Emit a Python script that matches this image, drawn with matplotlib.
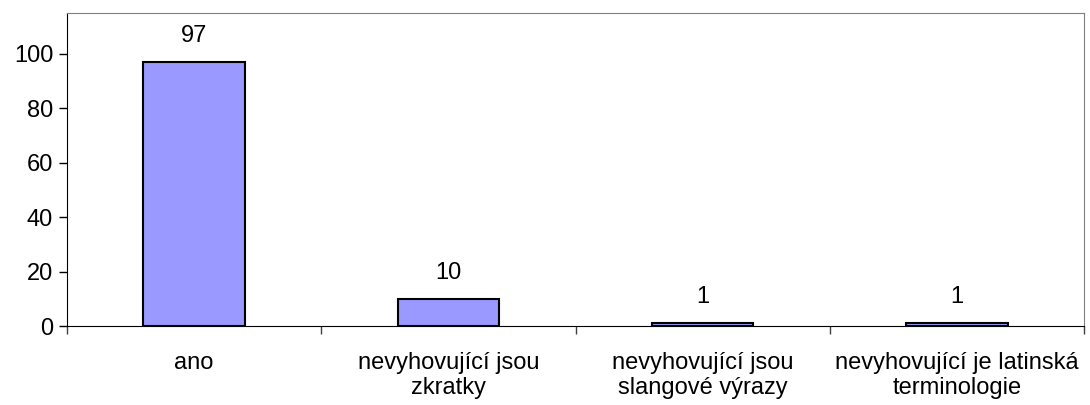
import numpy as np
import matplotlib.pyplot as plt

plt.rcParams['font.family'] = ['Liberation Sans', 'DejaVu Sans']

categories = ["ano", "nevyhovující jsou\nzkratky", "nevyhovující jsou\nslangové výrazy",
              "nevyhovující je latinská\nterminologie"]
values = [97, 10, 1, 1]
yticks = [0, 20, 40, 60, 80, 100]

fig = plt.figure(figsize=(10.9, 4.05), dpi=100)
ax = fig.add_axes([0.0615, 0.195, 0.933, 0.773])

x = np.arange(len(categories))
bars = ax.bar(x, values, width=0.4, color="#9999FF", edgecolor="black", linewidth=1.5)

for xi, v in zip(x, values):
    ax.annotate(str(v), (xi, v), xytext=(0, 11), textcoords="offset points",
                ha="center", va="bottom", fontsize=17)

ax.set_xlim(-0.5, len(categories) - 0.5)
ax.set_ylim(0, 115)
ax.set_yticks(yticks)
ax.tick_params(axis="y", labelsize=17, length=6, width=1, pad=4)

ax.set_xticks(x)
ax.set_xticklabels(categories, fontsize=17, linespacing=1.15)
ax.set_xticks(np.arange(len(categories) + 1) - 0.5, minor=True)
ax.tick_params(axis="x", which="major", length=0, pad=19)
ax.tick_params(axis="x", which="minor", length=6, width=1, color="#404040")

ax.spines["left"].set_color("black")
ax.spines["bottom"].set_color("black")
ax.spines["top"].set_color("#808080")
ax.spines["right"].set_color("#808080")

fig.savefig("out.png", dpi=100)
